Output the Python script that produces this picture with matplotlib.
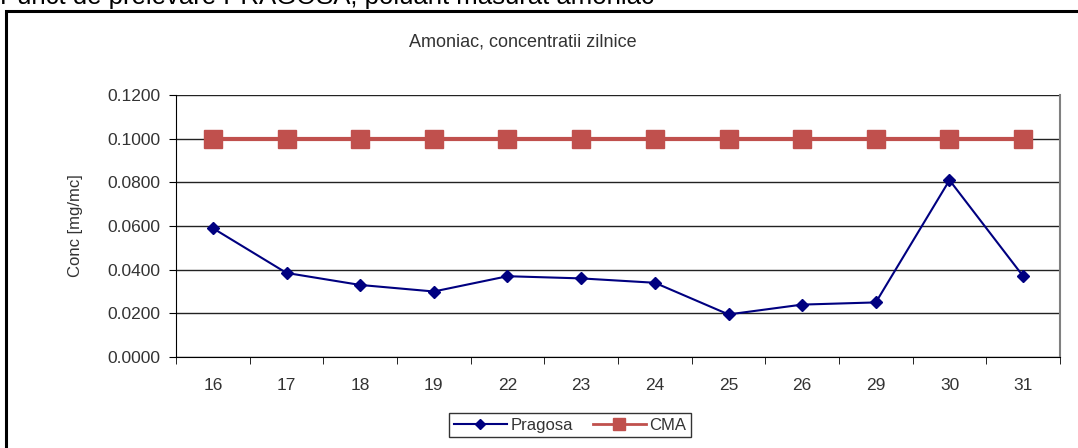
import matplotlib
matplotlib.use("Agg")
import matplotlib.pyplot as plt
from matplotlib.patches import Rectangle
from matplotlib.lines import Line2D
import numpy as np

plt.rcParams['font.family'] = ['Liberation Sans', 'DejaVu Sans']

days = ["16", "17", "18", "19", "22", "23", "24", "25", "26", "29", "30", "31"]
pragosa = [0.059, 0.0385, 0.033, 0.030, 0.037, 0.036, 0.034, 0.0195, 0.024, 0.025, 0.081, 0.037]
cma = [0.1] * 12
yticks = [0.0, 0.02, 0.04, 0.06, 0.08, 0.10, 0.12]

W, H = 1078, 448
fig = plt.figure(figsize=(W / 100, H / 100), dpi=100)
fig.patch.set_facecolor('white')

# outer frame
fig.patches.append(Rectangle((6 / W, -0.1), 1.2, 1 - 11 / H + 0.1, transform=fig.transFigure,
                             fill=False, edgecolor='black', linewidth=2.2, zorder=0))
fig.text(0.0, 1 - 4 / H, "Punct de prelevare PRAGOSA, poluant măsurat amoniac",
         fontsize=18.5, va='baseline', ha='left', color='black')

ax = fig.add_axes([176 / W, 1 - 357 / H, (1060 - 176) / W, (357 - 95) / H])
x = np.arange(len(days))
ax.plot(x, cma, color='#C0504D', linewidth=3, marker='s', markersize=12.5, label='CMA', zorder=3)
ax.plot(x, pragosa, color='#000080', linewidth=1.5, marker='D', markersize=6, label='Pragosa', zorder=4)

ax.set_xlim(-0.5, len(days) - 0.5)
ax.set_ylim(0, 0.12)
ax.set_yticks(yticks)
ax.set_yticklabels([f"{v:.4f}" for v in yticks])
ax.set_xticks(x)
ax.set_xticklabels(days)
ax.set_xticks(np.arange(-0.5, len(days), 1.0), minor=True)
ax.tick_params(axis='x', which='major', length=0, pad=15, labelsize=12.5, labelcolor='#333333')
ax.tick_params(axis='x', which='minor', length=5, direction='out', color='black')
ax.tick_params(axis='y', length=5, direction='out', labelsize=12.5, labelcolor='#333333', pad=6)
ax.yaxis.grid(True, color='#222222', linewidth=1)
ax.set_axisbelow(True)
ax.spines['top'].set_visible(False)
ax.spines['right'].set_color('#808080')
ax.spines['right'].set_linewidth(1.5)
ax.spines['left'].set_color('black')
ax.spines['bottom'].set_color('black')

ax.set_ylabel("Conc [mg/mc]", fontsize=12, color='#333333', labelpad=18)
fig.text(523 / W, 1 - 42 / H, "Amoniac, concentratii zilnice", ha='center', va='center',
         fontsize=13, color='#333333')

leg_handles = [
    Line2D([], [], color='#000080', linewidth=1.5, marker='D', markersize=5),
    Line2D([], [], color='#C0504D', linewidth=2, marker='s', markersize=8),
]
leg = fig.legend(leg_handles, ['Pragosa', 'CMA'], loc='center', bbox_to_anchor=(570 / W, 1 - 425 / H),
                 ncol=2, frameon=True, fancybox=False, edgecolor='black', fontsize=12,
                 handlelength=3.2, borderpad=0.25, columnspacing=1.2, handletextpad=0.2)
leg.get_frame().set_linewidth(1)
for t in leg.get_texts():
    t.set_color('#333333')

fig.savefig("out.png", dpi=100)
